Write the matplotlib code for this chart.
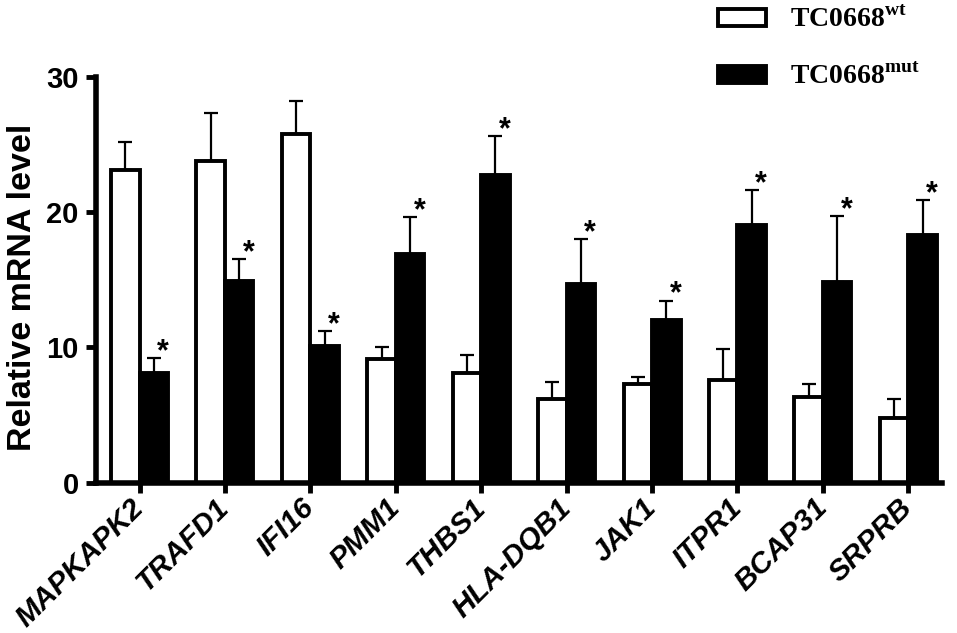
import numpy as np
import matplotlib
matplotlib.use('Agg')
import matplotlib.pyplot as plt

# data
genes = ['MAPKAPK2', 'TRAFD1', 'IFI16', 'PMM1', 'THBS1',
         'HLA-DQB1', 'JAK1', 'ITPR1', 'BCAP31', 'SRPRB']
wt_mean = [23.1, 23.8, 25.8, 9.1, 8.1, 6.2, 7.3, 7.6, 6.3, 4.8]
wt_err = [2.1, 3.5, 2.4, 0.9, 1.3, 1.2, 0.5, 2.3, 1.0, 1.4]
mut_mean = [8.1, 14.9, 10.1, 16.9, 22.7, 14.7, 12.0, 19.0, 14.8, 18.3]
mut_err = [1.1, 1.6, 1.1, 2.7, 2.9, 3.3, 1.45, 2.6, 4.9, 2.6]

plt.rcParams['font.family'] = ['Liberation Sans', 'DejaVu Sans']
plt.rcParams['mathtext.fontset'] = 'custom'
plt.rcParams['mathtext.rm'] = 'Liberation Serif'
plt.rcParams['mathtext.bf'] = 'Liberation Serif:bold'

W, H = 957, 633
fig = plt.figure(figsize=(W / 100, H / 100), dpi=100)
ax = fig.add_axes([96 / W, 1 - 482.5 / H, (942 - 96) / W, (482.5 - 76.7) / H])

x = np.arange(len(genes))
bw = 0.334
ew = dict(lw=1.6, capthick=1.6, capsize=4.8, ecolor='black')

ax.bar(x - bw / 2, wt_mean, bw, color='white', edgecolor='black', lw=2.8,
       yerr=[np.zeros(len(x)), wt_err], error_kw=ew, zorder=2,
       label='TC0668$^{\\mathbf{wt}}$')
ax.bar(x + bw / 2, mut_mean, bw, color='black', edgecolor='black', lw=2.8,
       yerr=[np.zeros(len(x)), mut_err], error_kw=ew, zorder=2,
       label='TC0668$^{\\mathbf{mut}}$')

# significance stars just above the mutant error caps (all genes marked)
for i in range(len(x)):
    ax.text(x[i] + bw / 2 + 0.11, mut_mean[i] + mut_err[i] - 0.15, '*',
            ha='center', va='baseline', fontsize=22, fontweight='bold')

ax.set_xlim(-0.51, 9.395)
ax.set_ylim(0, 30)
ax.set_yticks([0, 10, 20, 30])
ax.set_xticks(x)
ax.set_xticklabels(genes, rotation=45, ha='right', va='center', rotation_mode='anchor',
                   fontsize=21.5, fontweight='bold', fontstyle='italic')
for lab in ax.get_yticklabels():
    lab.set_fontweight('bold')
    lab.set_fontsize(21)
ax.tick_params(axis='both', width=3.5, length=7, direction='out')
ax.tick_params(axis='y', pad=5.5)
ax.tick_params(axis='x', pad=8)
ax.spines['top'].set_visible(False)
ax.spines['right'].set_visible(False)
ax.spines['left'].set_linewidth(4)
ax.spines['bottom'].set_linewidth(4)
ax.set_ylabel('Relative mRNA level', fontsize=24.5, fontweight='bold')
ax.yaxis.set_label_coords(-0.068, 0.48)

fig.legend(loc='upper left', bbox_to_anchor=(704 / W, 1 + 7 / H), frameon=False,
           borderpad=0, prop={'family': 'Liberation Serif', 'weight': 'bold', 'size': 20},
           handlelength=1.73, handleheight=0.58, handletextpad=0.86, labelspacing=1.1)

fig.savefig('out.png', dpi=100)
